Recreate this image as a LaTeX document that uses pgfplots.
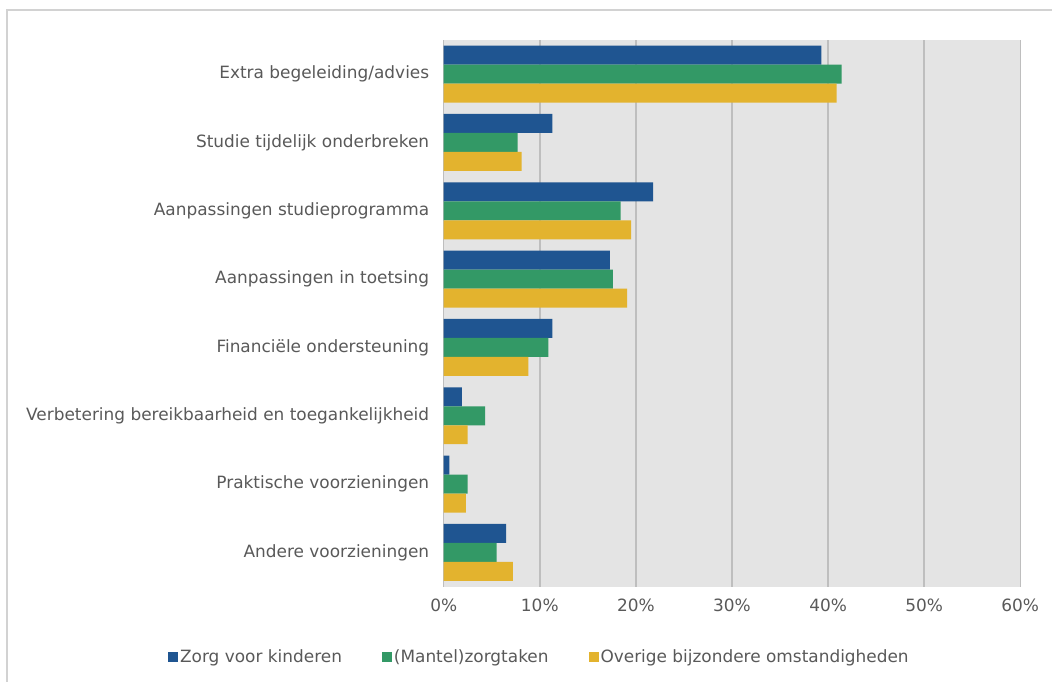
\documentclass[border=0pt]{standalone}
\usepackage{pgfplots}
\pgfplotsset{compat=1.18}
\usepackage{fontspec}
\setmainfont{DejaVu Sans}
\definecolor{cblue}{RGB}{31,85,145}
\definecolor{cgreen}{RGB}{51,153,102}
\definecolor{cyellow}{RGB}{227,179,46}
\definecolor{bggray}{RGB}{228,228,228}
\definecolor{gridgray}{RGB}{190,190,190}
\definecolor{txtgray}{RGB}{89,89,89}
\definecolor{framegray}{RGB}{210,210,210}
\begin{document}
\begin{tikzpicture}
\fill[white] (0bp,0bp) rectangle (1053bp,682bp);
\draw[framegray, line width=1.5bp] (7bp,0bp) -- (7bp,672bp) -- (1053bp,672bp);
\begin{axis}[
  at={(444bp,95bp)}, anchor=south west,
  scale only axis, width=577bp, height=547bp,
  xmin=0, xmax=60, ymin=-0.5, ymax=7.5,
  xbar, bar width=19bp,
  xtick={0,10,...,60},
  xticklabel={\pgfmathprintnumber{\tick}\%},
  /pgf/number format/assume math mode=true,
  ytick={0,...,7},
  yticklabels={Andere voorzieningen, Praktische voorzieningen, Verbetering bereikbaarheid en toegankelijkheid, Financiële ondersteuning, Aanpassingen in toetsing, Aanpassingen studieprogramma, Studie tijdelijk onderbreken, Extra begeleiding/advies},
  axis background/.style={fill=bggray},
  xmajorgrids, grid style={gridgray, line width=1.5bp},
  axis line style={draw=none},
  major tick length=0pt,
  tick label style={font=\fontsize{17}{20}\selectfont, text=txtgray},
  yticklabel style={xshift=-11bp},
  xticklabel style={yshift=-9bp},
  legend style={at={(0.166,-0.128)}, anchor=center, draw=none, fill=none,
    font=\fontsize{17}{20}\selectfont, text=txtgray, legend columns=3,
    /tikz/every even column/.append style={column sep=38bp},
    legend cell align=left},
  legend image code/.code={\fill[#1] (0bp,-5bp) rectangle (10bp,5bp);},
]
\addplot[fill=cblue, draw=none, bar shift=19bp] coordinates {(6.5,0) (0.6,1) (1.9,2) (11.3,3) (17.3,4) (21.8,5) (11.3,6) (39.3,7)};
\addplot[fill=cgreen, draw=none, bar shift=0bp] coordinates {(5.5,0) (2.5,1) (4.3,2) (10.9,3) (17.6,4) (18.4,5) (7.7,6) (41.4,7)};
\addplot[fill=cyellow, draw=none, bar shift=-19bp] coordinates {(7.2,0) (2.3,1) (2.5,2) (8.8,3) (19.1,4) (19.5,5) (8.1,6) (40.9,7)};
\legend{Zorg voor kinderen, (Mantel)zorgtaken, Overige bijzondere omstandigheden}
\end{axis}
\end{tikzpicture}
\end{document}
